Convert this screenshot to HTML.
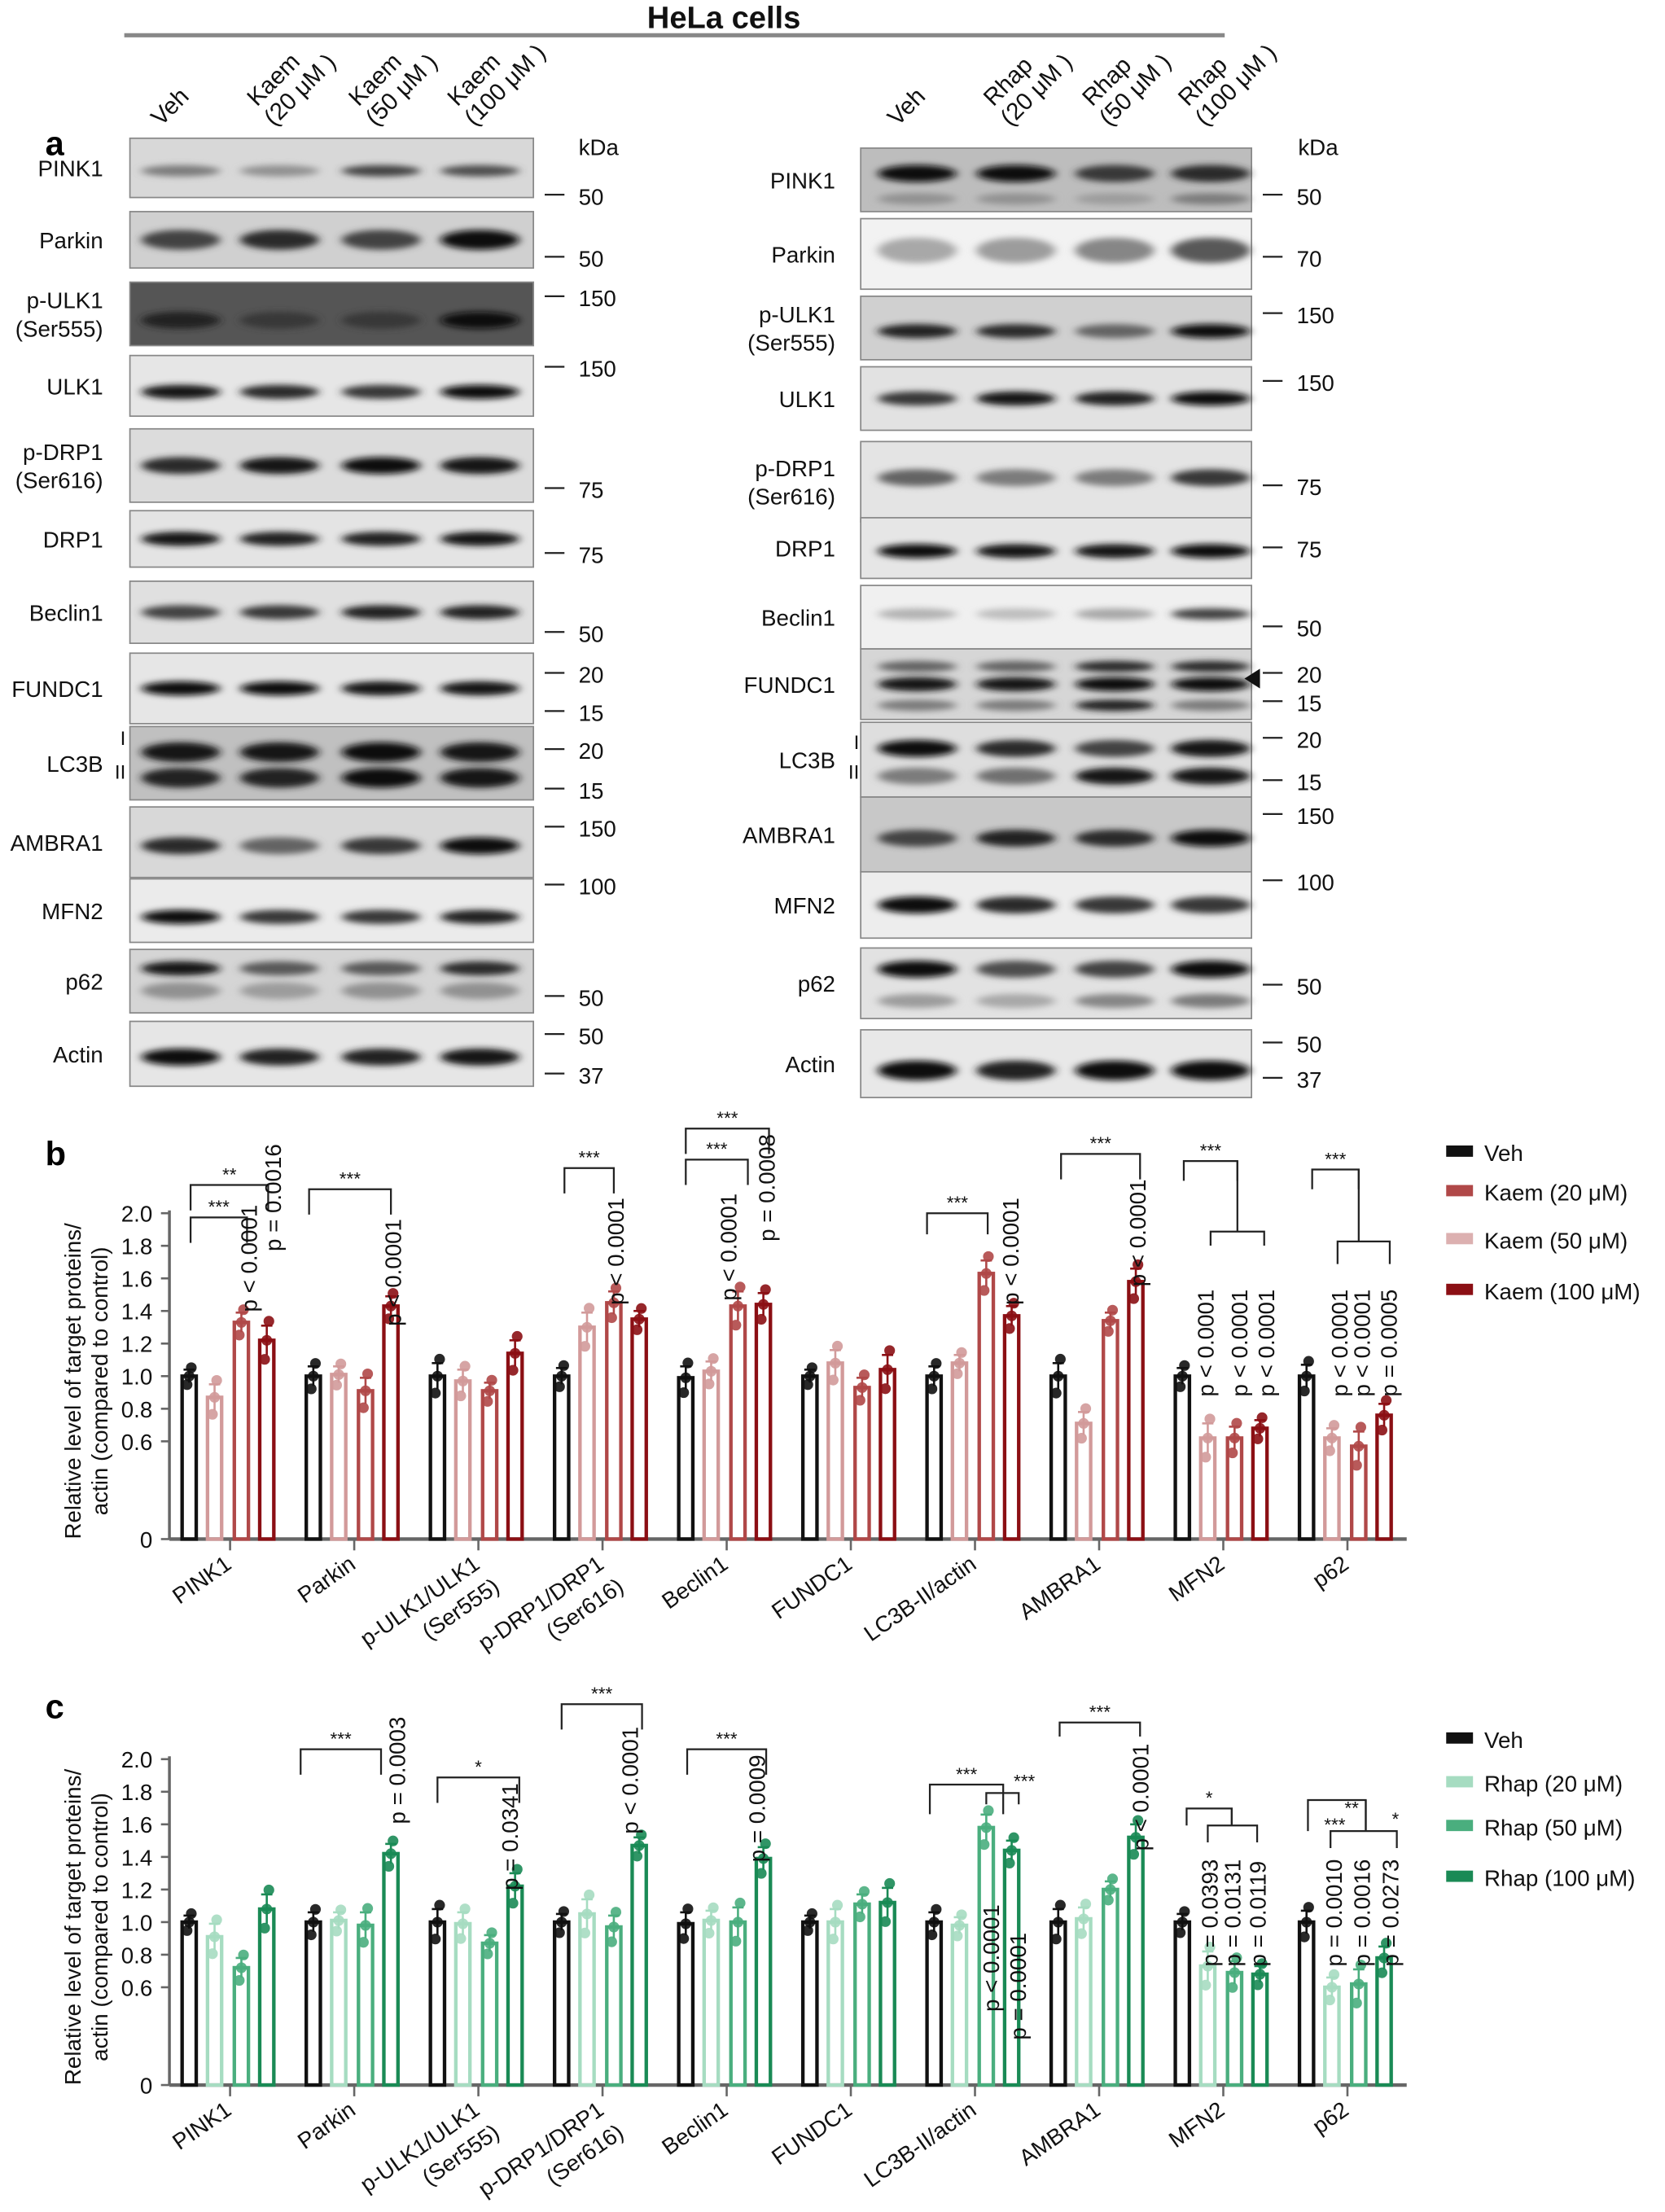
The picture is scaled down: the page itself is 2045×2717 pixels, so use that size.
<!DOCTYPE html>
<html><head><meta charset="utf-8">
<style>
html,body{margin:0;padding:0;background:#fff;}
svg{display:block;}
text{font-family:"Liberation Sans",Arial,sans-serif;}
</style></head>
<body>
<svg id="s" xmlns="http://www.w3.org/2000/svg" width="2045" height="2717" viewBox="0 0 1180 1568">
<defs>
<filter id="bl" x="-50%" y="-100%" width="200%" height="300%"><feGaussianBlur stdDeviation="3.2 2.2"/></filter>
</defs>
<rect width="1180" height="1568" fill="#fff"/>
<text x="513" y="20" font-size="22" font-weight="bold" text-anchor="middle" fill="#111">HeLa cells</text>
<line x1="88" y1="25" x2="868" y2="25" stroke="#888" stroke-width="3"/>
<text x="32" y="110" font-size="24" font-weight="bold">a</text>
<text x="32" y="826" font-size="24" font-weight="bold">b</text>
<text x="32" y="1218" font-size="24" font-weight="bold">c</text>
<g id="g"></g>
</svg>
<script>
var NS="http://www.w3.org/2000/svg",G=document.getElementById("g");
function el(t,a,txt){var e=document.createElementNS(NS,t);for(var k in a)e.setAttribute(k,a[k]);if(txt!=null)e.textContent=txt;G.appendChild(e);return e;}
function tx(x,y,s,fs,opt){opt=opt||{};var a={x:x,y:y,"font-size":fs,fill:opt.fill||"#111"};if(opt.anchor)a["text-anchor"]=opt.anchor;if(opt.rot!=null)a.transform="rotate("+opt.rot+" "+x+" "+y+")";if(opt.it)a["font-style"]="italic";return el("text",a,s);}
var hl=[["Veh"],["Kaem","(20 μM )"],["Kaem","(50 μM )"],["Kaem","(100 μM )"]];
var lx=[128,198,270,340];
function heads(h,xs){h.forEach(function(hh,i){var x=xs[i]-14,y=90; if(hh.length==1){tx(x,y,hh[0],17,{rot:-45});}else{tx(x-2,y-14,hh[0],17,{rot:-45});tx(x+10,y,hh[1],17,{rot:-45});}});}
heads(hl,lx);
var hr=[["Veh"],["Rhap","(20 μM )"],["Rhap","(50 μM )"],["Rhap","(100 μM )"]];
var rx=[650,720,790,858];
heads(hr,rx);
tx(410,110,"kDa",16);tx(920,110,"kDa",16);
function blot(X0,X1,lanes,labX,b){
 var y0=b[1],y1=b[2];
 el("rect",{x:X0,y:y0,width:X1-X0,height:y1-y0,fill:b[3],stroke:"#888","stroke-width":1});
 b[4].forEach(function(bd){var yy=y0+(y1-y0)*bd[0];bd[1].forEach(function(v,i){if(v<=0)return;var g=Math.round(235-225*v);el("ellipse",{cx:lanes[i],cy:yy,rx:28,ry:bd[2],fill:"rgb("+g+","+g+","+g+")",filter:"url(#bl)"});});});
 var L=b[0];var cy=(y0+y1)/2+6-(L.length-1)*10;
 L.forEach(function(s,k){tx(labX,cy+k*20,s,16,{anchor:"end"});});
 b[5].forEach(function(m){el("line",{x1:X1+8,y1:m[0],x2:X1+22,y2:m[0],stroke:"#222","stroke-width":1.3});tx(X1+32,m[0]+7,m[1],16);});
}
var L=[
[["PINK1"],98,140,"#d8d8d8",[[0.55,[0.5,0.4,0.75,0.7],4]],[[138,"50"]]],
[["Parkin"],150,190,"#d0d0d0",[[0.5,[0.75,0.85,0.75,1],7]],[[182,"50"]]],
[["p-ULK1","(Ser555)"],200,245,"#555",[[0.6,[0.9,0.8,0.8,1],6]],[[210,"150"]]],
[["ULK1"],252,295,"#e6e6e6",[[0.6,[0.95,0.85,0.8,1],5]],[[260,"150"]]],
[["p-DRP1","(Ser616)"],304,356,"#dcdcdc",[[0.5,[0.85,0.95,1,0.95],6]],[[346,"75"]]],
[["DRP1"],362,402,"#e4e4e4",[[0.5,[0.95,0.9,0.9,0.95],5]],[[392,"75"]]],
[["Beclin1"],412,456,"#e0e0e0",[[0.5,[0.75,0.8,0.9,0.9],5]],[[448,"50"]]],
[["FUNDC1"],463,513,"#e6e6e6",[[0.5,[1,1,0.95,0.95],5]],[[477,"20"],[504,"15"]]],
[["LC3B"],515,567,"#c0c0c0",[[0.35,[0.95,0.95,1,0.95],7],[0.7,[0.9,0.9,1,0.95],7]],[[531,"20"],[559,"15"]]],
[["AMBRA1"],572,622,"#d8d8d8",[[0.55,[0.85,0.6,0.8,1],6]],[[586,"150"]]],
[["MFN2"],623,668,"#ebebeb",[[0.6,[1,0.8,0.8,0.9],5]],[[627,"100"]]],
[["p62"],673,718,"#d5d5d5",[[0.3,[0.95,0.65,0.65,0.85],5],[0.65,[0.4,0.35,0.4,0.4],6]],[[706,"50"]]],
[["Actin"],724,770,"#e6e6e6",[[0.55,[1,0.9,0.9,0.95],6]],[[733,"50"],[761,"37"]]]
];
L.forEach(function(b){blot(92,378,lx,73,b);});
var R=[
[["PINK1"],105,150,"#bdbdbd",[[0.4,[1,1,0.8,0.85],6],[0.8,[0.4,0.4,0.35,0.5],4]],[[138,"50"]]],
[["Parkin"],155,205,"#f2f2f2",[[0.45,[0.3,0.35,0.45,0.65],9]],[[182,"70"]]],
[["p-ULK1","(Ser555)"],210,255,"#d0d0d0",[[0.55,[0.9,0.85,0.6,1],5]],[[222,"150"]]],
[["ULK1"],260,305,"#e2e2e2",[[0.5,[0.8,0.95,0.9,1],5]],[[270,"150"]]],
[["p-DRP1","(Ser616)"],313,370,"#e4e4e4",[[0.45,[0.6,0.5,0.5,0.8],6]],[[344,"75"]]],
[["DRP1"],367,410,"#e6e6e6",[[0.55,[1,0.95,0.95,1],5]],[[388,"75"]]],
[["Beclin1"],415,460,"#f0f0f0",[[0.45,[0.25,0.2,0.3,0.75],4]],[[444,"50"]]],
[["FUNDC1"],460,510,"#d6d6d6",[[0.25,[0.6,0.6,0.85,0.85],4],[0.5,[0.95,0.95,1,1],5],[0.8,[0.5,0.5,0.9,0.5],4]],[[477,"20"],[497,"15"]]],
[["LC3B"],512,565,"#dedede",[[0.35,[1,0.85,0.75,0.95],6],[0.72,[0.5,0.55,0.95,0.95],6]],[[523,"20"],[553,"15"]]],
[["AMBRA1"],565,618,"#c8c8c8",[[0.55,[0.75,0.9,0.85,1],6]],[[577,"150"]]],
[["MFN2"],618,665,"#ededed",[[0.5,[1,0.85,0.8,0.8],6]],[[624,"100"]]],
[["p62"],672,722,"#e2e2e2",[[0.3,[1,0.7,0.75,1],6],[0.75,[0.35,0.3,0.45,0.5],5]],[[698,"50"]]],
[["Actin"],730,778,"#e8e8e8",[[0.6,[1,0.9,1,1],7]],[[739,"50"],[764,"37"]]]
];
R.forEach(function(b){blot(610,887,rx,592,b);});
el("polygon",{points:"882,481 893,474 893,488",fill:"#111"});
tx(609,531,"I",14,{anchor:"end"});tx(609,552,"II",14,{anchor:"end"});
tx(89,528,"I",14,{anchor:"end"});tx(89,552,"II",14,{anchor:"end"});

var cats=["PINK1","Parkin","p-ULK1/ULK1|(Ser555)","p-DRP1/DRP1|(Ser616)","Beclin1","FUNDC1","LC3B-II/actin","AMBRA1","MFN2","p62"];
function chart(y0,sc,cols,lcols,vals,legend,legY){
 var Y=function(v){return y0-sc*v;};
 el("line",{x1:120,y1:Y(2.0)-2,x2:120,y2:y0,stroke:"#666","stroke-width":2});
 el("line",{x1:120,y1:y0,x2:997,y2:y0,stroke:"#666","stroke-width":2.5});
 [0,0.6,0.8,1.0,1.2,1.4,1.6,1.8,2.0].forEach(function(v){el("line",{x1:114,y1:Y(v),x2:120,y2:Y(v),stroke:"#666","stroke-width":1.5});tx(108,Y(v)+6,v==0?"0":v.toFixed(1),16,{anchor:"end"});});
 tx(57,y0-112,"Relative level of target proteins/",16,{anchor:"middle",rot:-90});
 tx(76,y0-112,"actin (compared to control)",16,{anchor:"middle",rot:-90});
 var offs=[-29,-11,8,26];
 vals.forEach(function(g,gi){var c=163+88*gi;
  el("line",{x1:c,y1:y0,x2:c,y2:y0+8,stroke:"#666","stroke-width":1.5});
  var parts=cats[gi].split("|");
  parts.forEach(function(p,k){tx(c+2+k*14,y0+20+k*16,p,16,{anchor:"end",rot:-35});});
  g.forEach(function(v,i){var x=c+offs[i],col=cols[i];
   el("rect",{x:x-5,y:Y(v),width:10,height:sc*v,fill:"none",stroke:col,"stroke-width":2.5});
   var e=(i==0?0.04:0.05)+(gi*7+i*3)%5*0.01;
   el("line",{x1:x,y1:Y(v+e),x2:x,y2:Y(v-e),stroke:col,"stroke-width":1.5});
   el("line",{x1:x-4,y1:Y(v+e),x2:x+4,y2:Y(v+e),stroke:col,"stroke-width":1.5});
   [-1,0,1].forEach(function(d){el("circle",{cx:x+d*1.5,cy:Y(v+d*e*1.3),r:3.8,fill:col,opacity:0.9});});
  });
 });
 legend.forEach(function(l,i){el("rect",{x:1025,y:legY[i]-5,width:19,height:8,fill:lcols[i]});tx(1052,legY[i]+6,l,16);});
}
var red=["#111","#d29a9a","#b04848","#8b0f14"];
chart(1091,115.5,red,["#111","#b04848","#dcb0b0","#8b0f14"],[[1,0.87,1.33,1.22],[1,1.01,0.91,1.43],[1,0.97,0.91,1.14],[1,1.3,1.45,1.35],[0.99,1.03,1.43,1.44],[1,1.08,0.93,1.04],[1,1.08,1.63,1.37],[1,0.71,1.34,1.58],[1,0.62,0.62,0.68],[1,0.62,0.57,0.76]],["Veh","Kaem (20 μM)","Kaem (50 μM)","Kaem (100 μM)"],[817,845,879,915]);
var grn=["#111","#a6dcc1","#4aae7e","#1a8a55"];
chart(1478,115.5,grn,grn,[[1,0.91,0.72,1.08],[1,1.01,0.98,1.42],[1,0.99,0.87,1.22],[1,1.05,0.97,1.47],[0.99,1.01,1.0,1.39],[1,1.0,1.11,1.12],[1,0.98,1.58,1.44],[1,1.02,1.2,1.52],[1,0.73,0.69,0.68],[1,0.6,0.62,0.78]],["Veh","Rhap (20 μM)","Rhap (50 μM)","Rhap (100 μM)"],[1233,1264,1295,1331]);
function br(x1,x2,y,lab,d){d=d||18;el("polyline",{points:x1+","+(y+d)+" "+x1+","+y+" "+x2+","+y+" "+x2+","+(y+d),fill:"none",stroke:"#222","stroke-width":1.3});if(lab)tx((x1+x2)/2,y-3,lab,13,{anchor:"middle"});}
function vl(x,y1,y2){el("line",{x1:x,y1:y1,x2:x,y2:y2,stroke:"#222","stroke-width":1.3});}
function pv(x,y,s){tx(x,y,s,16,{rot:-90});}
br(135,175,863,"***");br(135,190,840,"**");br(219,277,843,"***");br(400,435,828,"***");
br(486,530,822,"***");br(486,545,800,"***");br(657,700,860,"***",15);br(752,808,818,"***");
br(839,877,823,"***",14);br(858,896,873,null,10);vl(877,823,873);
br(930,963,829,"***",14);br(948,985,880,null,16);vl(963,829,880);
pv(182,930,"p < 0.0001");pv(199,887,"p = 0.0016");pv(284,940,"p < 0.0001");pv(442,925,"p < 0.0001");
pv(522,922,"p < 0.0001");pv(549,880,"p = 0.0008");pv(722,925,"p < 0.0001");pv(812,912,"p < 0.0001");
pv(860,990,"p < 0.0001");pv(884,990,"p < 0.0001");pv(903,990,"p < 0.0001");
pv(955,990,"p < 0.0001");pv(971,990,"p < 0.0001");pv(990,990,"p = 0.0005");
br(213,270,1240,"***");br(310,368,1260,"*");br(398,455,1208,"***");br(487,543,1240,"***");
br(659,711,1265,"***",21);br(699,722,1271,null,8);tx(726,1267,"***",13,{anchor:"middle"});
br(751,808,1221,"***",10);
br(841,873,1282,"*",12);br(856,891,1294,null,12);vl(873,1282,1294);
br(927,968,1276,null,22);br(943,990,1298,null,12);vl(968,1276,1298);
tx(958,1286,"**",13,{anchor:"middle"});tx(946,1298,"***",13,{anchor:"middle"});tx(989,1294,"*",13,{anchor:"middle"});
pv(287,1293,"p = 0.0003");pv(367,1340,"p = 0.0341");pv(452,1300,"p < 0.0001");pv(542,1320,"p = 0.0009");
pv(708,1426,"p < 0.0001");pv(727,1446,"p = 0.0001");pv(814,1312,"p < 0.0001");
pv(863,1394,"p = 0.0393");pv(879,1394,"p = 0.0131");pv(897,1394,"p = 0.0119");
pv(951,1394,"p = 0.0010");pv(971,1394,"p = 0.0016");pv(991,1394,"p = 0.0273");
</script>
</body></html>
